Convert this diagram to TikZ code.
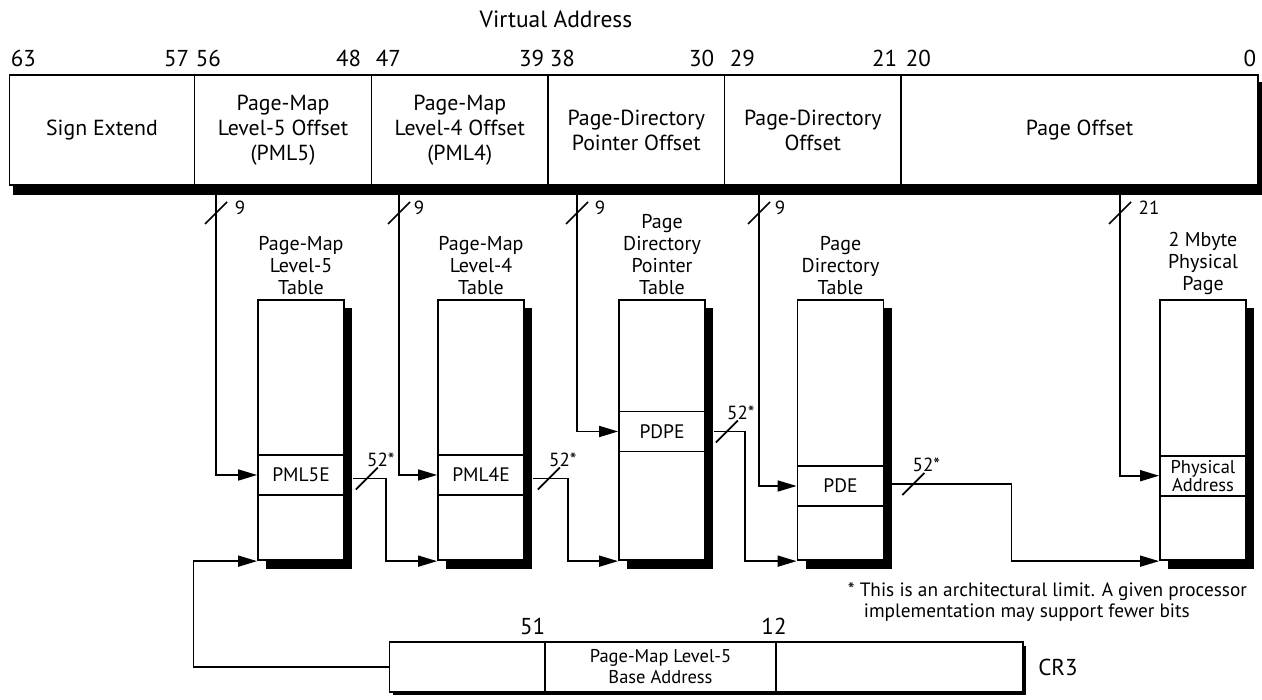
\documentclass[tikz,border=0pt]{standalone}
\usepackage{fontspec}
\setmainfont{PT Sans}
\usetikzlibrary{arrows.meta,calc}
\begin{document}
\begin{tikzpicture}[x=1pt,y=-1pt,line width=1.7pt,
  field/.style={draw,fill=white,line width=1.8pt,minimum height=110pt,inner sep=0pt,align=center,font=\fontsize{21.8}{25}\selectfont},
  bit/.style={inner sep=0pt,font=\fontsize{23}{26}\selectfont},
  tbl/.style={draw,fill=white,line width=1.8pt,minimum width=86pt,minimum height=260pt,inner sep=0pt},
  entry/.style={draw,line width=1.8pt,minimum width=86pt,minimum height=40pt,inner sep=0pt,font=\fontsize{19.5}{21}\selectfont},
  tlabel/.style={inner sep=0pt,align=center,font=\fontsize{20}{22}\selectfont},
  arr/.style={-{Triangle[length=19pt,width=11pt]},line width=1.7pt},
  wire/.style={line width=1.7pt},
  small/.style={inner sep=0pt,font=\fontsize{19}{21}\selectfont},
  crf/.style={draw,fill=white,line width=1.2pt,minimum height=50pt,inner sep=0pt,align=center,font=\fontsize{18.5}{21}\selectfont}
]
\useasboundingbox (0,0) rectangle (1262,700);

% title
\node[inner sep=0pt,font=\fontsize{23.5}{26}\selectfont] (title) at (556,19) {Virtual Address};

% virtual address register
\fill (13,82) rectangle (1262,195);
\node[field,minimum width=185pt] (f1) at (102,130) {Sign Extend};
\node[field,minimum width=177pt] (f2) at (283,130) {Page-Map\\Level-5 Offset\\(PML5)};
\node[field,minimum width=176.5pt] (f3) at (459.75,130) {Page-Map\\Level-4 Offset\\(PML4)};
\node[field,minimum width=176.5pt] (f4) at (636.25,130) {Page-Directory\\Pointer Offset};
\node[field,minimum width=176.5pt] (f5) at (812.75,130) {Page-Directory\\Offset};
\node[field,minimum width=357pt] (f6) at (1079.5,130) {Page Offset};

% bit numbers
\node[bit,anchor=base west] (b63) at (10,66.5) {63};
\node[bit,anchor=base east] (b57) at (190,66.5) {57};
\node[bit,anchor=base west] (b56) at (195,66.5) {56};
\node[bit,anchor=base east] (b48) at (362,66.5) {48};
\node[bit,anchor=base west] (b47) at (375,66.5) {47};
\node[bit,anchor=base east] (b39) at (545,66.5) {39};
\node[bit,anchor=base west] (b38) at (549,66.5) {38};
\node[bit,anchor=base east] (b30) at (715,66.5) {30};
\node[bit,anchor=base west] (b29) at (729,66.5) {29};
\node[bit,anchor=base east] (b21) at (898,66.5) {21};
\node[bit,anchor=base west] (b20) at (905,66.5) {20};
\node[bit,anchor=base east] (b0) at (1257,66.5) {0};

% tables with shadows
\foreach \cx/\nm in {301/t1,481/t2,662/t3,840.5/t4,1203/t5}{
  \fill (\cx-35,308) rectangle (\cx+51,568.5);
  \node[tbl] (\nm) at (\cx,430.25) {};
}
\node[entry] (e1) at (301,475) {PML5E};
\node[entry] (e2) at (481,475) {PML4E};
\node[entry] (e3) at (662,431.5) {PDPE};
\node[entry] (e4) at (840.5,486) {PDE};
\node[entry,align=center,font=\fontsize{18.5}{16}\selectfont] (e5) at (1203,475.7) {Physical\\Address};

% table labels
\node[tlabel,anchor=south] (l1) at (301,296) {Page-Map\\Level-5\\Table};
\node[tlabel,anchor=south] (l2) at (481,296) {Page-Map\\Level-4\\Table};
\node[tlabel,anchor=south] (l3) at (662,296) {Page\\Directory\\Pointer\\Table};
\node[tlabel,anchor=south] (l4) at (840.5,296) {Page\\Directory\\Table};
\node[tlabel,anchor=south] (l5) at (1203,296) {2 Mbyte\\Physical\\Page};

% index arrows from the virtual address
\coordinate (s1) at (216,195);
\coordinate (s2) at (399,195);
\coordinate (s3) at (577,195);
\coordinate (s4) at (759,195);
\coordinate (s5) at (1120,195);
\draw[arr] (s1) |- (e1.west);
\draw[arr] (s2) |- (e2.west);
\draw[arr] (s3) |- (e3.west);
\draw[arr] (s4) |- (e4.west);
\draw[arr] (s5) |- (e5.west);
\foreach \c/\t/\d in {s1/9/24,s2/9/20,s3/9/23,s4/9/21,s5/21/29}{
  \draw[wire] ($(\c)+(-11,29)$) -- ($(\c)+(11,7)$);
  \node[small] at ($(\c)+(\d,13)$) {\t};
}

% entry outputs
\coordinate (o1) at ($(e1.east)+(8,3.5)$);
\coordinate (o2) at ($(e2.east)+(8,3.5)$);
\coordinate (o3) at ($(e3.east)+(8,0)$);
\coordinate (o4) at ($(e4.east)+(8,-2)$);
\draw[arr] (o1) -- ++(33,0) |- (t2.south west);
\draw[arr] (o2) -- ++(35,0) |- (t3.south west);
\draw[arr] (o3) -- ++(31,0) |- (t4.south west);
\draw[arr] (o4) -- ++(119,0) |- (t5.south west);
\foreach \c/\s/\l in {o1/14/28,o2/16/30,o3/13/27,o4/21/34}{
  \draw[wire] ($(\c)+(\s-11,11)$) -- ($(\c)+(\s+11,-11)$);
  \node[small] at ($(\c)+(\l,-19)$) {52*};
}

% footnote
\node[inner sep=0pt,anchor=west,align=left,font=\fontsize{19.3}{21}\selectfont] (note) at (847,602)
  {* This is an architectural limit. A given processor\\\hspace*{16pt}implementation may support fewer bits};

% CR3
\fill (393,646) rectangle (1026,695);
\node[crf,minimum width=155.5pt] (c1) at (467.25,667) {};
\node[crf,minimum width=231pt] (c2) at (660.5,667) {Page-Map Level-5\\Base Address};
\node[crf,minimum width=247pt] (c3) at (899.5,667) {};
\node[bit,anchor=base east] (b51) at (546,634) {51};
\node[bit,anchor=base] (b12) at (774,634) {12};
\node[inner sep=0pt,font=\fontsize{23}{26}\selectfont] (cr3) at (1058,667) {CR3};
\draw[arr] (c1.west) -- ++(-195.5,0) |- (t1.south west);
\end{tikzpicture}
\end{document}
